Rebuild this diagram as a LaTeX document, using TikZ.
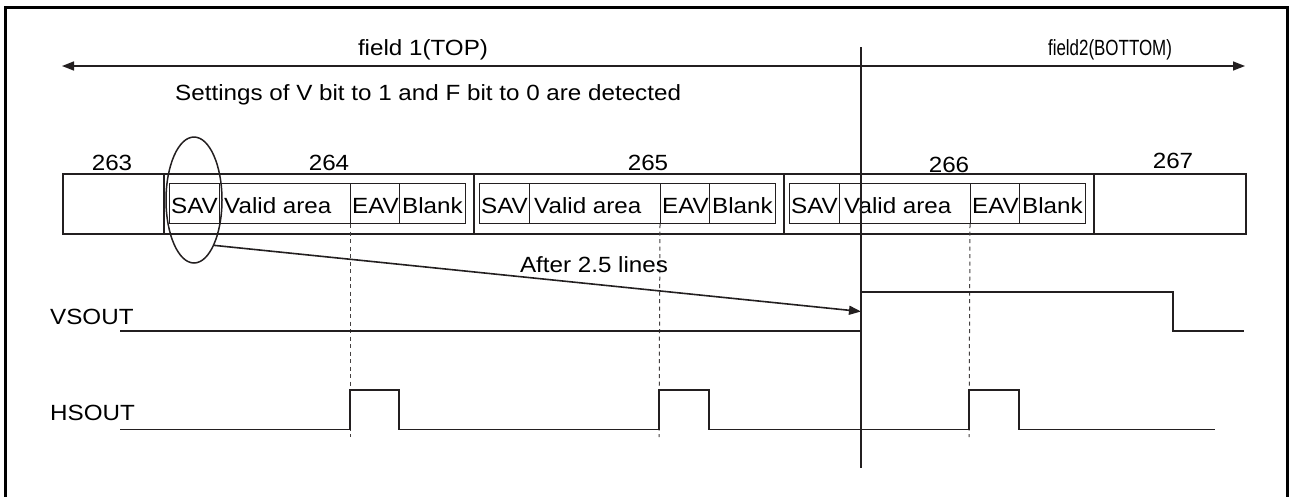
\documentclass[tikz,border=0pt]{standalone}
\usepackage{fontspec}
\setmainfont{Liberation Sans}[FakeStretch=1.1]
\usetikzlibrary{arrows.meta,shapes.geometric}
\definecolor{ink}{HTML}{231F20}
\begin{document}
\begin{tikzpicture}[x=1pt,y=-1pt,
  every node/.style={font=\fontsize{22}{26}\selectfont, text=black},
  lbl/.style={inner sep=0pt},
  cellbox/.style={draw=ink, line width=1.8pt, minimum height=60, inner sep=0pt, anchor=north west},
  ibox/.style={draw=ink, line width=1.2pt, minimum height=40, inner sep=0pt, anchor=north west},
  sig/.style={draw=ink, line width=1.7pt},
  guide/.style={draw=ink!85, line width=1pt, dash pattern=on 4pt off 3.5pt},
  tipA/.style={-{Triangle[length=12pt,width=9pt]}},
]
\useasboundingbox (0,0) rectangle (1290,496);
% frame (bottom edge cropped)
\draw[line width=3pt, black] (5.5,505) -- (5.5,7.5) -- (1287,7.5) -- (1287,505);

% field arrow and labels
\coordinate (fl) at (62,66);
\coordinate (fr) at (1245,66);
\draw[ink, line width=1.5pt, {Triangle[length=12pt,width=9pt]}-{Triangle[length=12pt,width=9pt]}] (fl) -- (fr);
\node[lbl, anchor=base] (f1) at (423,55) {field 1(TOP)};
\node[lbl, anchor=base] (f2) at (1110,55) {\scalebox{0.7}[1]{field2(BOTTOM)}};
\node[lbl, anchor=base west] (set) at (175,100) {Settings of V bit to 1 and F bit to 0 are detected};

% line numbers
\node[lbl, anchor=base] (n263) at (112,170) {263};
\node[lbl, anchor=base] (n264) at (329,170) {264};
\node[lbl, anchor=base] (n265) at (648,170) {265};
\node[lbl, anchor=base] (n266) at (949,172) {266};
\node[lbl, anchor=base] (n267) at (1173,168) {267};

% strip cells
\node[cellbox, minimum width=101] (c263) at (62,173) {};
\node[cellbox, minimum width=310] (c264) at (163,173) {};
\node[cellbox, minimum width=310] (c265) at (473,173) {};
\node[cellbox, minimum width=310] (c266) at (783,173) {};
\node[cellbox, minimum width=152] (c267) at (1093,173) {};

% inner boxes
\foreach \i/\L in {1/163, 2/473, 3/783} {
  \node[ibox, minimum width=50]  (sav\i) at (\L+6,183) {};
  \node[ibox, minimum width=131] (val\i) at (\L+56,183) {};
  \node[ibox, minimum width=49]  (eav\i) at (\L+187,183) {};
  \node[ibox, minimum width=66]  (blk\i) at (\L+236,183) {};
  \node[lbl, anchor=base west] at (\L+8,213) {SAV};
  \node[lbl, anchor=base west] at (\L+61,213) {Valid area};
  \node[lbl, anchor=base west] at (\L+189,213) {EAV};
  \node[lbl, anchor=base west] at (\L+239,213) {Blank};
}

% guides from EAV
\coordinate (g1) at (350,437);
\coordinate (g2) at (659,437);
\coordinate (g3) at (969,437);
\draw[guide] (eav1.south west) -- (g1);
\draw[guide] (eav2.south west) -- (g2);
\draw[guide] (eav3.south west) -- (g3);

% field boundary
\coordinate (vt) at (861,47);
\coordinate (vb) at (861,468);
\draw[ink, line width=1.5pt] (vt) -- (vb);

% ellipse and arrow
\node[draw=ink, line width=1.5pt, ellipse, minimum width=56, minimum height=126, inner sep=0pt] (ell) at (194,200) {};
\coordinate (vtip) at (861,311.5);
\draw[ink, line width=1.6pt, tipA] (ell.-66) -- (vtip);
\node[lbl, anchor=base] (after) at (594,272) {After 2.5 lines};

% signals
\node[lbl, anchor=base west] (vs) at (50,324) {VSOUT};
\node[lbl, anchor=base west] (hs) at (50,420) {HSOUT};
\draw[sig] (120,331) -- (861,331) -- (861,292) -- (1173,292) -- (1173,331) -- (1244,331);
\draw[sig] (120,429.5) -- (350,429.5) -- (350,390) -- (399,390) -- (399,429.5)
  -- (659,429.5) -- (659,390) -- (709,390) -- (709,429.5)
  -- (969,429.5) -- (969,390) -- (1019,390) -- (1019,429.5) -- (1215,429.5);
\end{tikzpicture}
\end{document}
